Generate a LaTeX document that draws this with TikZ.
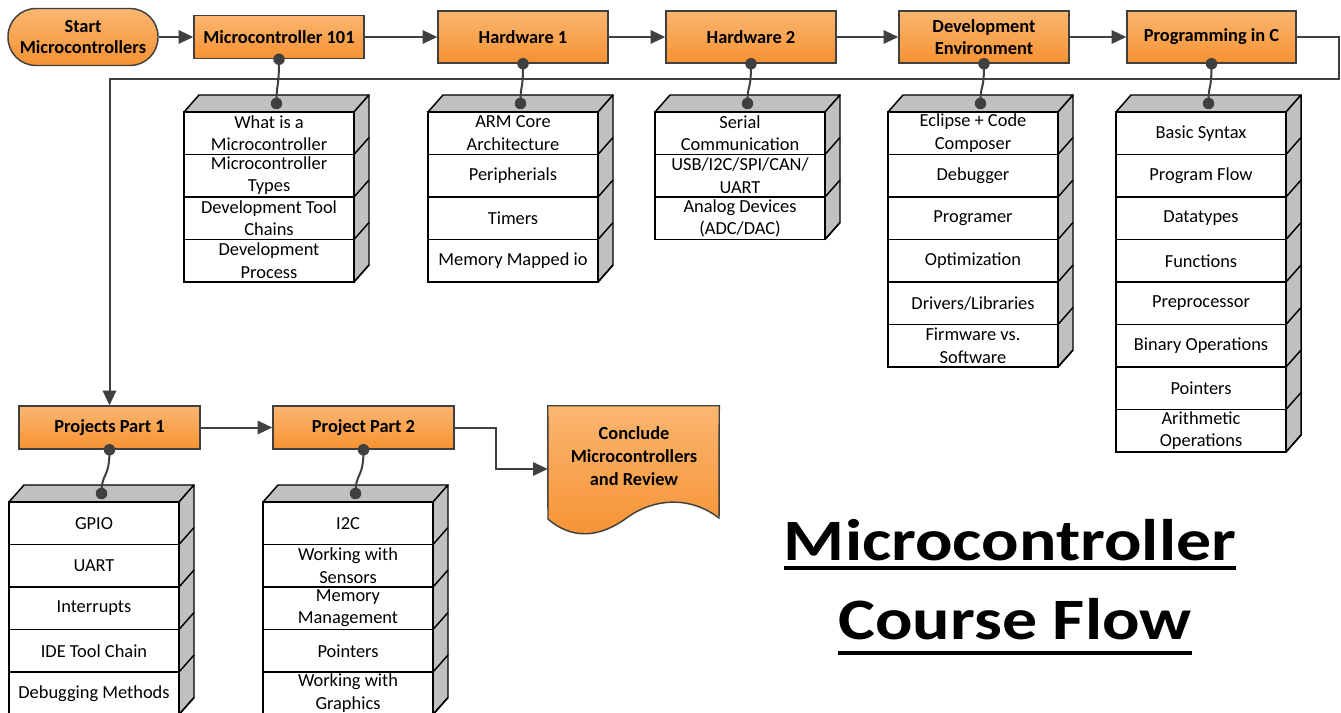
\documentclass[tikz,border=0pt]{standalone}
\usepackage{fontspec}
\setmainfont{Carlito}
\usetikzlibrary{arrows.meta}
\definecolor{linec}{RGB}{64,64,64}
\definecolor{orTop}{RGB}{250,182,112}
\definecolor{orBot}{RGB}{246,146,50}
\definecolor{faceg}{RGB}{192,192,192}

\tikzset{
  face/.style={fill=faceg, draw=black, line width=1.1pt, line join=round},
  faceline/.style={draw=black, line width=1.1pt},
  row/.style={draw=black, fill=white, line width=1.1pt, minimum width=127.5pt,
    minimum height=31.875pt, inner sep=0pt, align=center,
    font=\fontsize{13.8}{17}\selectfont},
  hdr/.style={draw=linec, line width=1.1pt, top color=orTop, bottom color=orBot,
    align=center, inner sep=0pt, font=\bfseries\fontsize{13.8}{16}\selectfont},
  arr/.style={draw=linec, line width=1.5pt, -{Triangle[length=11pt,width=10pt]}},
  link/.style={draw=linec, line width=1.5pt},
  dotc/.style={fill=linec},
  titletext/.style={inner sep=0pt, font=\bfseries\fontsize{44}{50}\selectfont},
}

% A 3-D block of topic rows:
% #1 name, #2 left x of the front face, #3 top y of the front face,
% #4 number of rows, #5 row labels
\newcommand{\partstack}[5]{%
  \pgfmathsetmacro{\sxr}{#2+170}%
  \pgfmathsetmacro{\syb}{#3+#4*42.5}%
  \filldraw[face] (#2,#3) -- (#2+15,#3-17) -- (\sxr+15,#3-17) -- (\sxr,#3) -- cycle;
  \filldraw[face] (\sxr,#3) -- (\sxr+15,#3-17) -- (\sxr+15,\syb-17) -- (\sxr,\syb) -- cycle;
  \foreach \t [count=\i] in {#5} {
    \node[row] (#1-\i) at (#2+85,#3+\i*42.5-21.25) {\t};
    \draw[faceline] (\sxr,#3+\i*42.5) -- ++(15,-17);
  }
  \coordinate (#1-top) at (#2+92.5,#3-8.5);
}

\begin{document}
\begin{tikzpicture}[x=0.75pt,y=-0.75pt]
\path[fill=white] (0,0) rectangle (1341,713);
\useasboundingbox (0,0) rectangle (1341,713);

% course stages
\node[hdr, rounded corners=21pt, minimum width=112.5pt, minimum height=42.75pt] (start) at (83,37) {Start\\Microcontrollers};
\node[hdr, minimum width=127.5pt, minimum height=32.25pt] (mc101) at (279,37) {Microcontroller 101};
\node[hdr, minimum width=127.5pt, minimum height=39pt] (hw1) at (523,37) {Hardware 1};
\node[hdr, minimum width=127.5pt, minimum height=39pt] (hw2) at (751,37) {Hardware 2};
\node[hdr, minimum width=127.5pt, minimum height=39pt] (dev) at (984,37) {Development\\Environment};
\node[hdr, minimum width=126.75pt, minimum height=39pt] (progc) at (1211.5,37) {Programming in C};
\node[hdr, minimum width=135.75pt, minimum height=32.25pt] (pp1) at (109.5,427.5) {Projects Part 1};
\node[hdr, minimum width=135.75pt, minimum height=32.25pt] (pp2) at (363.5,427.5) {Project Part 2};

% final stage: document shape
\node[minimum width=128.25pt, minimum height=94.5pt, inner sep=0pt] (conclude) at (633.5,469) {};
\shade[top color=orTop, bottom color=orBot, draw=linec, line width=1.1pt]
  (conclude.north west) -- (conclude.north east) -- (719,518)
  .. controls (690,496) and (655,498) .. (628,517)
  .. controls (600,538) and (572,540) .. (548,519) -- cycle;
\node[align=center, font=\bfseries\fontsize{13.8}{17}\selectfont] (concludetext) at (634,456) {Conclude\\Microcontrollers\\and Review};

% flow arrows
\draw[arr] (start.east) -- (mc101.west);
\draw[arr] (mc101.east) -- (hw1.west);
\draw[arr] (hw1.east) -- (hw2.west);
\draw[arr] (hw2.east) -- (dev.west);
\draw[arr] (dev.east) -- (progc.west);
\coordinate (loopR) at (1339,79);
\coordinate (loopL) at (109.5,79);
\draw[arr] (progc.east) -| (loopR) -- (loopL) -- (pp1.north);
\draw[arr] (pp1.east) -- (pp2.west);
\coordinate (bend) at (496,427.5);
\draw[arr] (pp2.east) -- (bend) |- (conclude.west);

% topic blocks
\partstack{s1}{184}{112}{4}{{What is a\\Microcontroller},{Microcontroller\\Types},{Development Tool\\Chains},{Development\\Process}}
\partstack{s2}{428}{112}{4}{{ARM Core\\Architecture},Peripherials,Timers,Memory Mapped io}
\partstack{s3}{655}{112}{3}{{Serial\\Communication},{USB/I2C/SPI/CAN/\\UART},{Analog Devices\\(ADC/DAC)}}
\partstack{s4}{888}{112}{6}{{Eclipse + Code\\Composer},Debugger,Programer,Optimization,Drivers/Libraries,{Firmware vs.\\Software}}
\partstack{s5}{1116}{112}{8}{Basic Syntax,Program Flow,Datatypes,Functions,Preprocessor,Binary Operations,Pointers,{Arithmetic\\Operations}}
\partstack{s6}{9}{502}{5}{GPIO,UART,Interrupts,IDE Tool Chain,Debugging Methods}
\partstack{s7}{263}{502}{5}{I2C,{Working with\\Sensors},{Memory\\Management},Pointers,{Working with\\Graphics}}

% stage-to-topic links
\foreach \h/\s in {mc101/s1, hw1/s2, hw2/s3, dev/s4, progc/s5, pp1/s6, pp2/s7} {
  \draw[link] (\h.south) .. controls +(0,30) and +(0,-22) .. (\s-top);
  \fill[dotc] (\h.south) circle[radius=4.3pt];
  \fill[dotc] (\s-top) circle[radius=4.3pt];
}

% title
\node[titletext, anchor=base] (t1) at (1010,560) {\scalebox{1.19}[1]{Microcontroller}};
\draw[line width=2.6pt] ([yshift=-6pt]t1.base west) -- ([yshift=-6pt]t1.base east);
\node[titletext, anchor=base] (t2) at (1015,639) {\scalebox{1.19}[1]{Course Flow}};
\draw[line width=2.6pt] ([yshift=-10.5pt]t2.base west) -- ([yshift=-10.5pt]t2.base east);
\end{tikzpicture}
\end{document}
